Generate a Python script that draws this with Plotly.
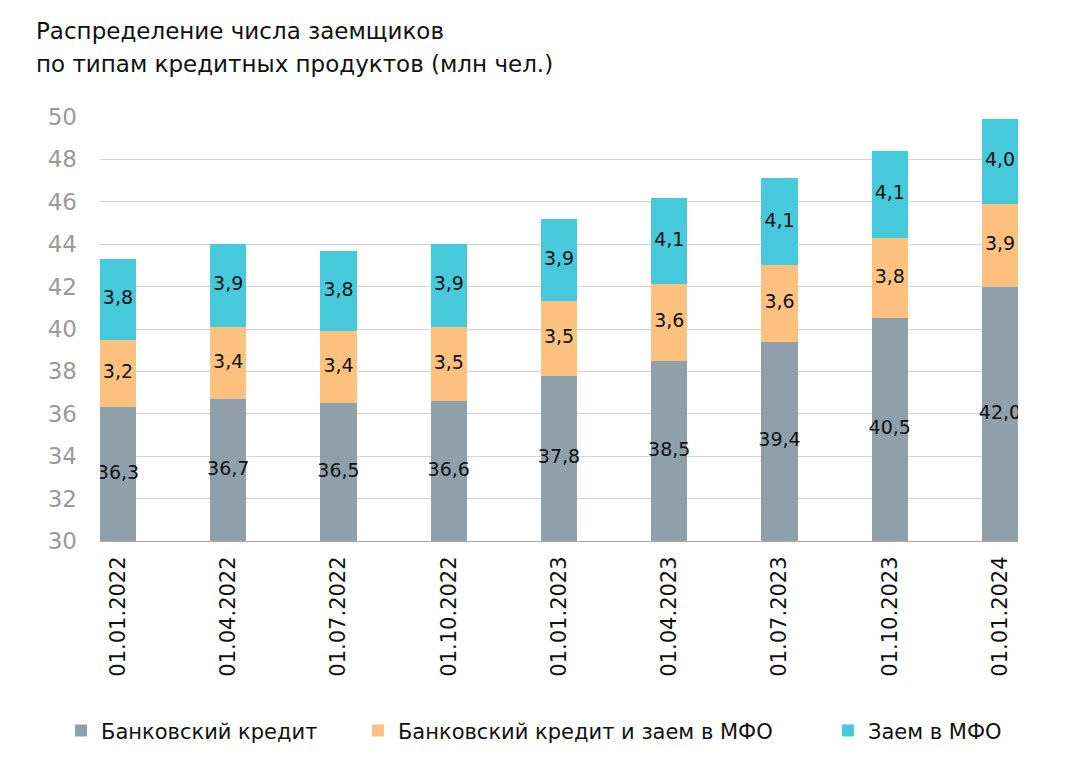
import plotly.graph_objects as go

dates = ["01.01.2022", "01.04.2022", "01.07.2022", "01.10.2022", "01.01.2023",
         "01.04.2023", "01.07.2023", "01.10.2023", "01.01.2024"]
bank = [36.3, 36.7, 36.5, 36.6, 37.8, 38.5, 39.4, 40.5, 42.0]
bank_mfo = [3.2, 3.4, 3.4, 3.5, 3.5, 3.6, 3.6, 3.8, 3.9]
mfo = [3.8, 3.9, 3.8, 3.9, 3.9, 4.1, 4.1, 4.1, 4.0]

names = ["Банковский кредит", "Банковский кредит и заем в МФО", "Заем в МФО"]
colors = ["#8fa0ab", "#fcc17f", "#47c9dc"]
legend_ids = ["legend", "legend2", "legend3"]
legend_x = [-0.0425, 0.281, 0.793]
y_min, y_max = 30, 50
FONT = "DejaVu Sans"

def fmt(v):
    return f"{v:.1f}".replace(".", ",")

fig = go.Figure()
for name, vals, col, lg in zip(names, [bank, bank_mfo, mfo], colors, legend_ids):
    fig.add_trace(go.Bar(x=dates, y=vals, name=name, marker=dict(color=col, line=dict(width=0)),
                         width=0.327, textposition="none", legend=lg))

# label positions: middle of visible segments
pos_bank = [(y_min + b) / 2 for b in bank]
pos_mid = [b + m / 2 for b, m in zip(bank, bank_mfo)]
pos_top = [b + m + t / 2 for b, m, t in zip(bank, bank_mfo, mfo)]
for pos, vals in [(pos_bank, bank), (pos_mid, bank_mfo), (pos_top, mfo)]:
    fig.add_trace(go.Scatter(x=dates, y=pos, mode="text", text=[fmt(v) for v in vals],
                             textfont=dict(family=FONT, size=19, color="#111111"),
                             showlegend=False, hoverinfo="skip"))

legend_common = dict(orientation="h", xanchor="left", y=-0.448, yanchor="middle",
                     font=dict(family=FONT, size=21, color="#111111"), itemwidth=30,
                     bgcolor="rgba(0,0,0,0)")
legends = {lg: dict(x=lx, **legend_common) for lg, lx in zip(legend_ids, legend_x)}

fig.update_layout(
    width=1062, height=764,
    margin=dict(l=92, r=52, t=109, b=231),
    paper_bgcolor="white", plot_bgcolor="white",
    barmode="stack",
    font=dict(family=FONT, color="#111111"),
    showlegend=True,
    xaxis=dict(range=[-0.163, 8.163], tickangle=-90, showgrid=False,
               tickfont=dict(family=FONT, size=21, color="#111111"),
               showline=True, linecolor="#a8a8a8", linewidth=1, ticks="", ticklabelstandoff=6),
    yaxis=dict(range=[y_min, y_max], dtick=2, tick0=30, showgrid=True, gridcolor="#d3d3d3",
               gridwidth=1, zeroline=False, tickfont=dict(family=FONT, size=23, color="#9a9a9a"),
               ticks="", ticklabelstandoff=22),
    annotations=[
        dict(text="Распределение числа заемщиков", xref="paper", yref="paper",
             x=-0.072, y=1.203, xanchor="left", yanchor="middle", showarrow=False,
             font=dict(family=FONT, size=23, color="#111111")),
        dict(text="по типам кредитных продуктов (млн чел.)", xref="paper", yref="paper",
             x=-0.072, y=1.125, xanchor="left", yanchor="middle", showarrow=False,
             font=dict(family=FONT, size=23, color="#111111")),
    ],
    **legends,
)
fig.write_html("out.html")
